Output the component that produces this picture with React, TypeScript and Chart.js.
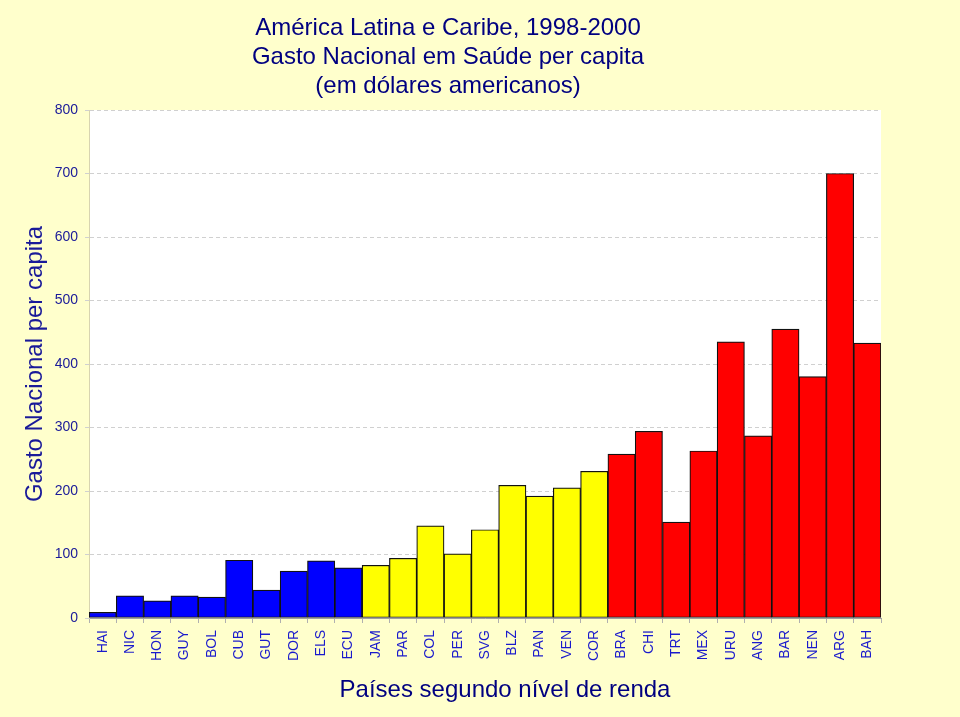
import React, { useEffect, useRef } from "react";
import { Chart, registerables } from "chart.js";

Chart.register(...registerables);

const countries = ["HAI","NIC","HON","GUY","BOL","CUB","GUT","DOR","ELS","ECU","JAM","PAR","COL","PER","SVG","BLZ","PAN","VEN","COR","BRA","CHI","TRT","MEX","URU","ANG","BAR","NEN","ARG","BAH"];
const spending = [9,35,27,35,33,91,44,74,90,79,83,94,145,101,139,209,192,205,231,258,294,151,263,435,287,455,380,700,433];
const incomeGroup = ["low","low","low","low","low","low","low","low","low","low","mid","mid","mid","mid","mid","mid","mid","mid","mid","high","high","high","high","high","high","high","high","high","high"];
const groupColors: Record<string, string> = { low: "#0000FF", mid: "#FFFF00", high: "#FF0000" };
const titleLines = ["América Latina e Caribe, 1998-2000", "Gasto Nacional em Saúde per capita", "(em dólares americanos)"];
const yTitle = "Gasto Nacional per capita";
const xTitle = "Países segundo nível de renda";
const yMax = 800;
const yStep = 100;

const FONT = "'Liberation Sans', Arial, sans-serif";

const bgPlugin = {
  id: "bgPlugin",
  beforeDraw(chart: any) {
    const { ctx, chartArea, width, height } = chart;
    ctx.save();
    ctx.fillStyle = "#FFFFCC";
    ctx.fillRect(0, 0, width, height);
    ctx.fillStyle = "#FFFFFF";
    ctx.fillRect(chartArea.left, chartArea.top, chartArea.right - chartArea.left, chartArea.bottom - chartArea.top);
    ctx.restore();
  },
  afterDraw(chart: any) {
    const { ctx, chartArea } = chart;
    const cx = (chartArea.left + chartArea.right) / 2;
    ctx.save();
    ctx.fillStyle = "#000080";
    ctx.textAlign = "center";
    ctx.textBaseline = "middle";
    ctx.font = `24px ${FONT}`;
    titleLines.forEach((line, i) => {
      ctx.fillText(line, cx - 37, 28 + i * 29);
    });
    ctx.fillText(xTitle, cx + 20, 690);
    ctx.restore();
  },
};

export default function App() {
  const canvasRef = useRef<HTMLCanvasElement | null>(null);

  useEffect(() => {
    document.body.style.margin = "0";
    document.body.style.overflow = "hidden";
    const canvas = canvasRef.current;
    if (!canvas) return;
    const chart = new Chart(canvas, {
      type: "bar",
      data: {
        labels: countries,
        datasets: [
          {
            data: spending,
            backgroundColor: incomeGroup.map((g) => groupColors[g]),
            borderColor: "#111111",
            borderWidth: 1.2,
            borderSkipped: false,
            categoryPercentage: 1,
            barPercentage: 1,
          },
        ],
      },
      options: {
        animation: false,
        responsive: false,
        layout: { padding: { top: 110, right: 79, left: 0, bottom: 0 } },
        plugins: { legend: { display: false }, tooltip: { enabled: false }, title: { display: false } },
        scales: {
          x: {
            offset: true,
            grid: { offset: true, drawOnChartArea: false, drawTicks: true, tickLength: 5, color: "#B0B0B0" },
            border: { color: "#A0A0A0" },
            ticks: {
              minRotation: 90,
              maxRotation: 90,
              autoSkip: false,
              padding: 7,
              color: "#1A1ACC",
              font: { family: FONT, size: 14 },
            },
            afterFit: (scale: any) => {
              scale.height = 99;
            },
          },
          y: {
            min: 0,
            max: yMax,
            ticks: { stepSize: yStep, padding: 7, color: "#1A1A99", font: { family: FONT, size: 14 } },
            grid: { color: "#D0D0D0", tickLength: 4, drawTicks: true },
            border: { color: "#D8D4B0", dash: [4, 3], display: true },
            title: { display: true, text: yTitle, color: "#1A1A99", font: { family: FONT, size: 24 }, padding: { top: 21, bottom: 0 } },
            afterFit: (scale: any) => {
              scale.width = 89;
            },
          },
        },
      },
      plugins: [bgPlugin],
    });
    return () => chart.destroy();
  }, []);

  return (
    <div style={{ width: 960, height: 717 }}>
      <canvas ref={canvasRef} width={960} height={717} style={{ display: "block" }} />
    </div>
  );
}
